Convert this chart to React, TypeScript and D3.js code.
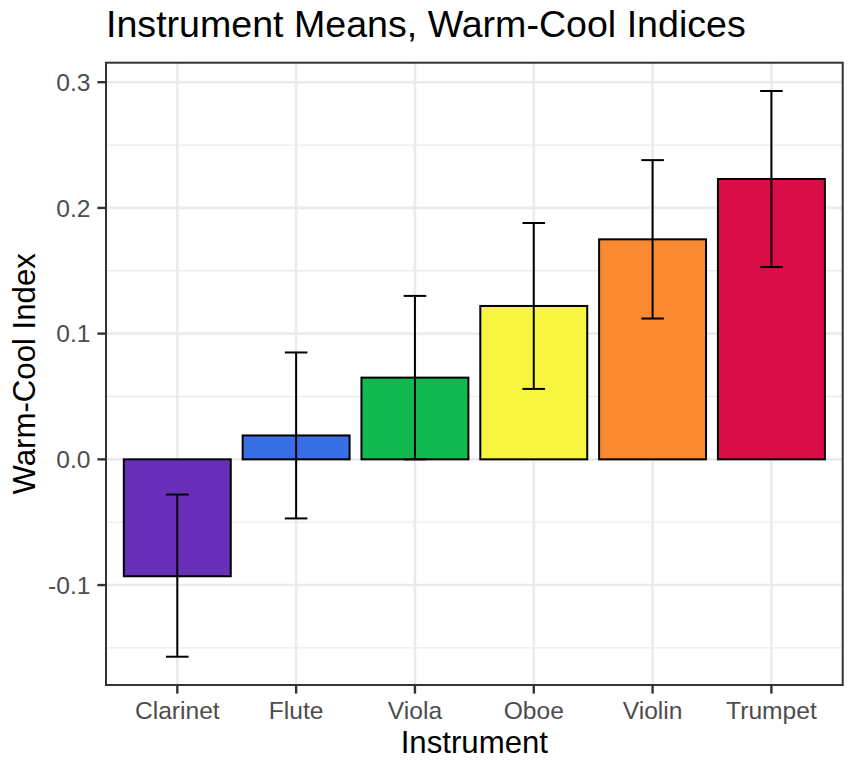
import React from "react";
import * as d3 from "d3";

const instruments = ["Clarinet", "Flute", "Viola", "Oboe", "Violin", "Trumpet"];
const means = [-0.093, 0.019, 0.065, 0.122, 0.175, 0.223];
const lower = [-0.157, -0.047, 0.0, 0.056, 0.112, 0.153];
const upper = [-0.028, 0.085, 0.13, 0.188, 0.238, 0.293];
const colors = ["#6A2FB8", "#386FE4", "#11B950", "#F7F540", "#FA8A32", "#DB0D48"];
const yTicks = [-0.1, 0.0, 0.1, 0.2, 0.3];
const yMinor = [-0.15, -0.05, 0.05, 0.15, 0.25];
const title = "Instrument Means, Warm-Cool Indices";
const xTitle = "Instrument";
const yTitle = "Warm-Cool Index";

const W = 851;
const H = 763;
const panel = { left: 106, right: 842.7, top: 62.7, bottom: 685 };
const FONT = "'Liberation Sans', Arial, Helvetica, sans-serif";

export default function App() {
  const x = d3
    .scaleBand<string>()
    .domain(instruments)
    .range([panel.left, panel.right])
    .paddingInner(0)
    .paddingOuter(0.1);
  const step = x.step();
  const lo = d3.min(lower) as number;
  const hi = d3.max(upper) as number;
  const pad = (hi - lo) * 0.05;
  const y = d3
    .scaleLinear()
    .domain([lo - pad, hi + pad])
    .range([panel.bottom, panel.top]);

  const cx = (c: string) => (x(c) as number) + step / 2;
  const barW = step * 0.9;
  const capW = step * 0.19;
  const fmt = (v: number) => v.toFixed(1).replace("\u2212", "-");

  return (
    <svg width={W} height={H} style={{ position: "absolute", left: 0, top: 0, background: "#fff" }}>
      <rect x={0} y={0} width={W} height={H} fill="#fff" />
      {yMinor.map((v) => (
        <line key={"mn" + v} x1={panel.left} x2={panel.right} y1={y(v)} y2={y(v)} stroke="#EBEBEB" strokeWidth={1.3} />
      ))}
      {yTicks.map((v) => (
        <line key={"mj" + v} x1={panel.left} x2={panel.right} y1={y(v)} y2={y(v)} stroke="#EBEBEB" strokeWidth={2.6} />
      ))}
      {instruments.map((c) => (
        <line key={"vg" + c} x1={cx(c)} x2={cx(c)} y1={panel.top} y2={panel.bottom} stroke="#EBEBEB" strokeWidth={2.6} />
      ))}
      {instruments.map((c, i) => {
        const y0 = y(0);
        const y1 = y(means[i]);
        return (
          <rect
            key={"b" + c}
            x={cx(c) - barW / 2}
            y={Math.min(y0, y1)}
            width={barW}
            height={Math.abs(y1 - y0)}
            fill={colors[i]}
            stroke="#000"
            strokeWidth={2}
          />
        );
      })}
      {instruments.map((c, i) => (
        <g key={"e" + c} stroke="#000" strokeWidth={2}>
          <line x1={cx(c)} x2={cx(c)} y1={y(lower[i])} y2={y(upper[i])} />
          <line x1={cx(c) - capW / 2} x2={cx(c) + capW / 2} y1={y(lower[i])} y2={y(lower[i])} />
          <line x1={cx(c) - capW / 2} x2={cx(c) + capW / 2} y1={y(upper[i])} y2={y(upper[i])} />
        </g>
      ))}
      <rect
        x={panel.left}
        y={panel.top}
        width={panel.right - panel.left}
        height={panel.bottom - panel.top}
        fill="none"
        stroke="#333333"
        strokeWidth={2}
      />
      {yTicks.map((v) => (
        <g key={"yt" + v}>
          <line x1={panel.left - 8.6} x2={panel.left} y1={y(v)} y2={y(v)} stroke="#333333" strokeWidth={2.4} />
          <text
            x={90.5}
            y={y(v)}
            dy="0.35em"
            textAnchor="end"
            fontFamily={FONT}
            fontSize={24.6}
            fill="#4D4D4D"
          >
            {fmt(v)}
          </text>
        </g>
      ))}
      {instruments.map((c) => (
        <g key={"xt" + c}>
          <line x1={cx(c)} x2={cx(c)} y1={panel.bottom} y2={panel.bottom + 8.6} stroke="#333333" strokeWidth={2.4} />
          <text x={cx(c)} y={719} textAnchor="middle" fontFamily={FONT} fontSize={24.6} fill="#4D4D4D">
            {c}
          </text>
        </g>
      ))}
      <text
        x={(panel.left + panel.right) / 2}
        y={753}
        textAnchor="middle"
        fontFamily={FONT}
        fontSize={31.2}
        fill="#000"
      >
        {xTitle}
      </text>
      <text
        transform={`translate(35, ${(panel.top + panel.bottom) / 2}) rotate(-90)`}
        textAnchor="middle"
        fontFamily={FONT}
        fontSize={31.2}
        fill="#000"
      >
        {yTitle}
      </text>
      <text x={106} y={37.3} fontFamily={FONT} fontSize={37.6} fill="#000">
        {title}
      </text>
    </svg>
  );
}
